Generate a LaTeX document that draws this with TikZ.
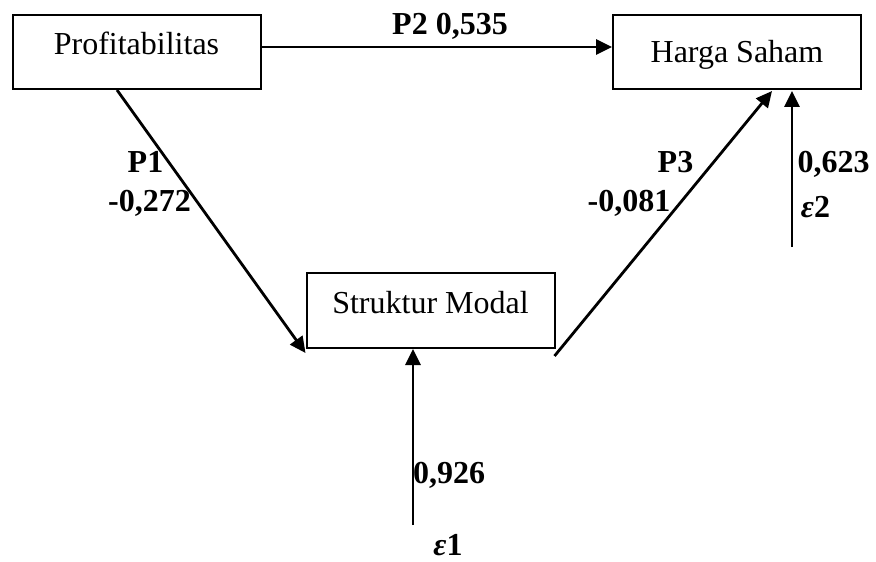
\documentclass[tikz,border=0pt]{standalone}
\usepackage{fontspec}
\setmainfont{Liberation Serif}
\usetikzlibrary{arrows.meta, positioning}

\begin{document}
\begin{tikzpicture}[
      x=1pt, y=1pt,
      font=\fontsize{16}{19}\selectfont,
      box/.style={draw, line width=1pt, inner xsep=0pt, inner ysep=0pt, minimum width=124pt, text depth=17.5pt, text height=20pt},
      ar/.style={-{Triangle[length=8pt, width=7.5pt]}, line width=1.4pt},
      lbl/.style={font=\fontsize{16}{19}\selectfont\bfseries, anchor=base, inner sep=0pt}
    ]
    \useasboundingbox (0,0) rectangle (438,-280.5);
    \node[box, text depth=17pt] (prof) at (68.25,-26) {Profitabilitas};
    \node[box, text height=24pt, text depth=13pt] (harga) at (368.5,-26) {Harga Saham};
    \node[box] (struktur) at (215.25,-155.25) {Struktur Modal};
    \coordinate (e2) at ([xshift=27.5pt,yshift=-78.5pt]harga.south);
    \coordinate (e1) at ([xshift=-8.75pt,yshift=-88pt]struktur.south);
    \draw[ar] ([yshift=2.5pt]prof.east) -- ([yshift=2.5pt]harga.west);
    \draw[ar] ([xshift=-9.75pt]prof.south) -- ([yshift=-2pt]struktur.south west);
    \draw[ar] ([shift={(-0.5pt,-3.5pt)}]struktur.south east) -- ([shift={(17.5pt,-0.5pt)}]harga.south);
    \draw[ar] (e2) -- ([xshift=27.5pt,yshift=-0.5pt]harga.south);
    \draw[ar] (e1) -- ([xshift=-8.75pt]struktur.south);
    % path labels
    \node[lbl] (lp2) at (225,-17.5) {P2 0,535};
    \node[lbl] (lp1) at (72.75,-86.5) {P1};
    \node[lbl] (lv1) at (74.75,-106) {-0,272};
    \node[lbl] (lp3) at (337.75,-86.5) {P3};
    \node[lbl] (lv3) at (314.5,-106) {-0,081};
    \node[lbl] (lv2) at (416.75,-86.5) {0,623};
    \node[lbl] (le2) at (407.75,-108.5) {{\itshape ε}2};
    \node[lbl] (lv4) at (224.5,-241.5) {0,926};
    \node[lbl] (le1) at (224,-277.5) {{\itshape ε}1};
  \end{tikzpicture}
\end{document}
